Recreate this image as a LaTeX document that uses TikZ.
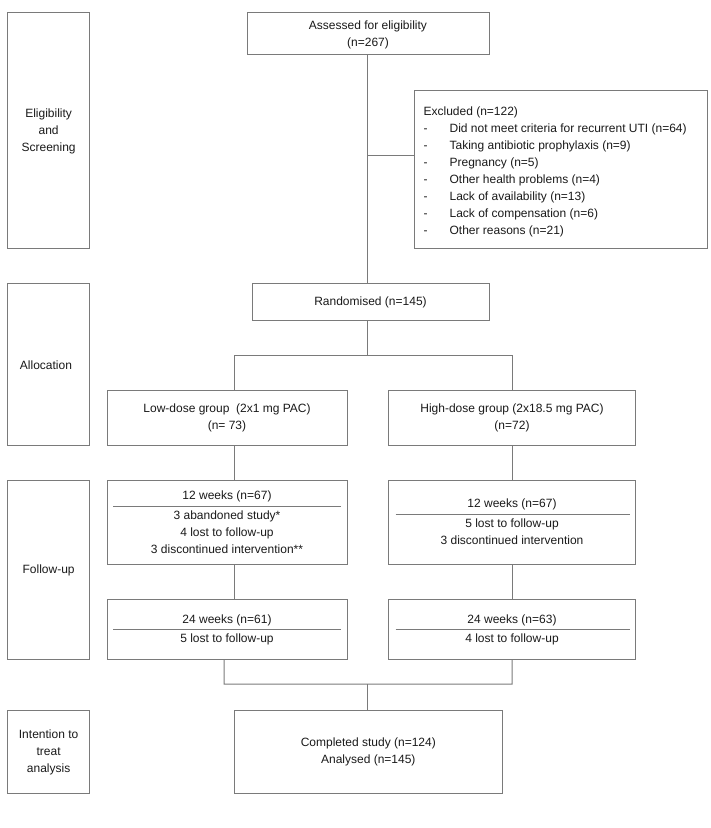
\documentclass[tikz,border=0pt]{standalone}
\usepackage{fontspec}
\setmainfont{Liberation Sans}
\usetikzlibrary{fit}
\definecolor{linegray}{HTML}{7A7A7A}
\definecolor{txt}{HTML}{1A1A1A}
\begin{document}
\begin{tikzpicture}[x=1pt,y=-1pt,
  box/.style={draw=linegray, line width=1pt, inner sep=0pt, outer sep=0pt,
    font=\fontsize{12}{17}\selectfont, text=txt, align=center},
  lbl/.style={inner sep=0pt, outer sep=0pt, font=\fontsize{12}{17}\selectfont, text=txt, align=center},
  conn/.style={draw=linegray, line width=1pt},
  sep/.style={draw=linegray, line width=1pt}]
\useasboundingbox[fill=white] (0,0) rectangle (711,828);

% stage labels
\node[box, fit={(7.3,12.3) (89.5,248)}] (elig) {};
\node[lbl] (eligt) at (48.6,131) {Eligibility\\and\\Screening};
\node[box, fit={(7.3,283.3) (89.5,445.7)}] (alloc) {};
\node[lbl] (alloct) at (46,365.7) {Allocation};
\node[box, fit={(7.3,480.7) (89.5,659)}] (follow) {};
\node[lbl] (followt) at (48.6,570) {Follow-up};
\node[box, fit={(7.3,710) (89.5,793)}] (itt) {};
\node[lbl] (ittt) at (48.6,752.3) {Intention to\\treat\\analysis};

% main flow
\node[box, fit={(247,12.3) (489,54)}] (assess) {};
\node[lbl] (assesst) at (368,34.7) {Assessed for eligibility\\(n=267)};

\node[box, fit={(414.5,90) (707.7,248)}] (excl) {};
\node[lbl, anchor=north west, align=left] (exclt) at (423.6,107)
  {Excluded (n=122)\\
   \makebox[26pt][l]{-}Did not meet criteria for recurrent UTI (n=64)\\
   \makebox[26pt][l]{-}Taking antibiotic prophylaxis (n=9)\\
   \makebox[26pt][l]{-}Pregnancy (n=5)\\
   \makebox[26pt][l]{-}Other health problems (n=4)\\
   \makebox[26pt][l]{-}Lack of availability (n=13)\\
   \makebox[26pt][l]{-}Lack of compensation (n=6)\\
   \makebox[26pt][l]{-}Other reasons (n=21)};

\node[box, fit={(252,283.3) (489,320)}] (rand) {};
\node[lbl] (randt) at (370.5,302.3) {Randomised (n=145)};

\node[box, fit={(107,390) (347,445.7)}] (low) {};
\node[lbl] (lowt) at (227,418.3) {Low-dose group\ \ (2x1 mg PAC)\\(n= 73)};
\node[box, fit={(388.6,390) (635.5,445.7)}] (high) {};
\node[lbl] (hight) at (512,418.3) {High-dose group (2x18.5 mg PAC)\\(n=72)};

% 12 weeks
\node[box, fit={(107,480.7) (347,564.3)}] (lw12) {};
\node[lbl] (lw12h) at (227,496) {12 weeks (n=67)};
\draw[sep] (113,506) -- (341.4,506);
\node[lbl] (lw12b) at (227,532.7) {3 abandoned study*\\4 lost to follow-up\\3 discontinued intervention**};

\node[box, fit={(388.6,480.7) (635.5,564.3)}] (hg12) {};
\node[lbl] (hg12h) at (512,504.3) {12 weeks (n=67)};
\draw[sep] (395.5,514.3) -- (629.5,514.3);
\node[lbl] (hg12b) at (512,532.2) {5 lost to follow-up\\3 discontinued intervention};

% 24 weeks
\node[box, fit={(107,599.3) (347,659)}] (lw24) {};
\node[lbl] (lw24h) at (227,620) {24 weeks (n=61)};
\draw[sep] (113,629.3) -- (341.4,629.3);
\node[lbl] (lw24b) at (227,639.5) {5 lost to follow-up};

\node[box, fit={(388.6,599.3) (635.5,659)}] (hg24) {};
\node[lbl] (hg24h) at (512,620) {24 weeks (n=63)};
\draw[sep] (395.5,629.3) -- (629.5,629.3);
\node[lbl] (hg24b) at (512,639.5) {4 lost to follow-up};

% completed
\node[box, fit={(234.5,710) (502,793)}] (done) {};
\node[lbl] (donet) at (368.3,752) {Completed study (n=124)\\Analysed (n=145)};

% connectors
\coordinate (spine) at (367.3,0);
\coordinate (exb) at (367.3,155);
\coordinate (sp) at (367.3,355);
\coordinate (spL) at (234.5,355);
\coordinate (spR) at (512,355);
\coordinate (mL) at (224,684);
\coordinate (mR) at (512,684);
\coordinate (mC) at (367.3,684);

\draw[conn] (spine |- assess.south) -- (spine |- rand.north);
\draw[conn] (exb) -- (exb -| excl.west);
\draw[conn] (sp |- rand.south) -- (sp);
\draw[conn] (spL |- low.north) -- (spL) -- (spR) -- (spR |- high.north);
\draw[conn] (spL |- low.south) -- (spL |- lw12.north);
\draw[conn] (spL |- lw12.south) -- (spL |- lw24.north);
\draw[conn] (high.south) -- (hg12.north);
\draw[conn] (hg12.south) -- (hg24.north);
\draw[conn] (mL |- lw24.south) -- (mL) -- (mR) -- (hg24.south);
\draw[conn] (mC) -- (mC |- done.north);
\end{tikzpicture}
\end{document}
